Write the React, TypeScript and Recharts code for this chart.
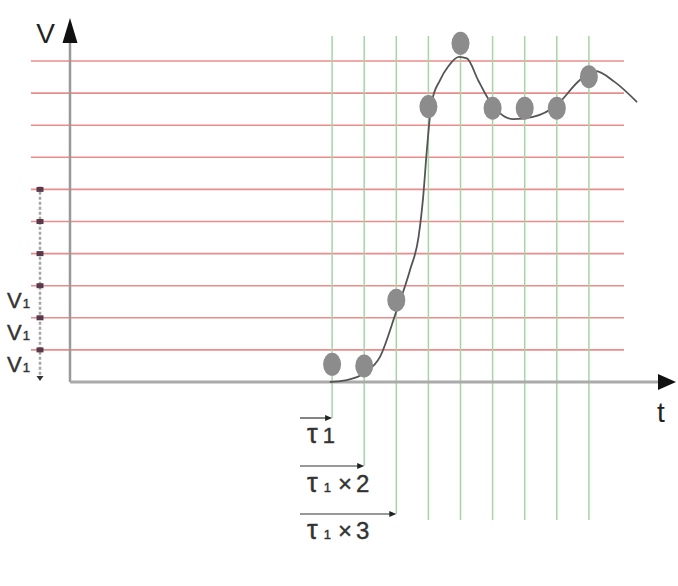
import React from 'react';
import { ComposedChart, XAxis, YAxis, Line, Scatter, ReferenceLine, ReferenceDot } from 'recharts';

// sampled points (grey dots), time in units of τ1, value in units of V1
const sampleTimes = [1, 2, 3, 4, 5, 6, 7, 8, 9];
const sampleValues = [0.55, 0.5, 2.55, 8.58, 10.55, 8.53, 8.53, 8.53, 9.51];

// the continuous response curve
const curveTimes = [0.93, 1.4, 2.0, 2.5, 3.0, 3.43, 3.69, 3.84, 3.95, 4.1, 4.36, 4.61, 4.95, 5.2, 5.55, 5.83, 6.2, 6.64, 7.26, 8.0, 8.72, 9.19, 9.8, 10.5];
const curveValues = [0, 0.05, 0.27, 0.8, 2.2, 3.5, 4.5, 5.8, 7.2, 8.7, 9.4, 9.82, 10.13, 10.08, 9.4, 8.88, 8.4, 8.19, 8.26, 8.63, 9.41, 9.69, 9.35, 8.72];

// grid: quantisation levels (red) and sampling instants (green)
const levels = [1, 2, 3, 4, 5, 6, 7, 8, 9, 10];
const steps = [1, 2, 3, 4, 5, 6, 7, 8, 9];

// step-size labels on the left and the τ arrows below
const v1Labels = ['V', 'V', 'V'];
const v1Bands = [3, 2, 1];
const tauMultiples = [1, 2, 3];
const tauFactors = ['', '2', '3'];

const W = 678;
const H = 586;
const U = 32.1; // px per unit
const OX = 300; // px of t = 0
const OY = 382; // px of v = 0
const X_MIN = -9.2;
const X_MAX = 11.75;
const Y_MIN = -6.2;
const Y_MAX = 11.85;

const px = (p: number) => (p - OX) / U;
const py = (p: number) => (OY - p) / U;

const AXIS_T = px(70);
const V1_T = px(40);
const tauRows = [py(418), py(466), py(514)];
const tauTextRows = [py(443), py(492), py(539)];

const FONT = '"Liberation Sans", Arial, sans-serif';

const dots = sampleTimes.map((t, i) => ({ t, v: sampleValues[i] }));
const curve = curveTimes.map((t, i) => ({ t, v: curveValues[i] }));

export default function App() {
  return (
    <div style={{ position: 'absolute', left: 0, top: 0, width: W, height: H, background: '#fff' }}>
      <ComposedChart
        width={W}
        height={H}
        margin={{
          left: OX + X_MIN * U,
          right: W - (OX + X_MAX * U),
          top: OY - Y_MAX * U,
          bottom: H - (OY - Y_MIN * U),
        }}
      >
        <XAxis type="number" dataKey="t" domain={[X_MIN, X_MAX]} allowDataOverflow hide />
        <YAxis type="number" dataKey="v" domain={[Y_MIN, Y_MAX]} allowDataOverflow hide />

        {levels.map((v) => (
          <ReferenceLine key={'h' + v} segment={[{ x: px(31), y: v }, { x: px(624), y: v }]} stroke="#ea8c8c" strokeWidth={1.6} />
        ))}
        {steps.map((t) => (
          <ReferenceLine
            key={'g' + t}
            segment={[{ x: t, y: py(36) }, { x: t, y: t <= 3 ? tauRows[t - 1] : py(520) }]}
            stroke="#a3d6a3"
            strokeWidth={1.5}
          />
        ))}

        <ReferenceLine segment={[{ x: 0, y: py(7) }, { x: 0, y: py(583) }]} stroke="#666" strokeDasharray="1.5 2.5" strokeWidth={1.4} />

        {/* axes */}
        <ReferenceLine segment={[{ x: AXIS_T, y: 0 }, { x: AXIS_T, y: py(42) }]} stroke="#999" strokeWidth={2.5} />
        <ReferenceLine segment={[{ x: AXIS_T, y: 0 }, { x: px(660), y: 0 }]} stroke="#aaa" strokeWidth={3} />
        <ReferenceDot x={AXIS_T} y={py(18)} shape={(p: any) => (
          <polygon points={`${p.cx},${p.cy} ${p.cx - 7.5},${p.cy + 25} ${p.cx + 7.5},${p.cy + 25}`} fill="#111" />
        )} />
        <ReferenceDot x={px(676)} y={0} shape={(p: any) => (
          <polygon points={`${p.cx},${p.cy} ${p.cx - 18},${p.cy - 8} ${p.cx - 18},${p.cy + 8}`} fill="#111" />
        )} />
        <ReferenceDot x={px(45.5)} y={py(43)} shape={(p: any) => (
          <text x={p.cx} y={p.cy} textAnchor="middle" fontFamily={FONT} fontSize={28} fill="#222">V</text>
        )} />
        <ReferenceDot x={px(661)} y={py(422)} shape={(p: any) => (
          <text x={p.cx} y={p.cy} textAnchor="middle" fontFamily={FONT} fontSize={28} fill="#222">t</text>
        )} />

        {/* V1 step marker */}
        <ReferenceLine segment={[{ x: V1_T, y: 6.08 }, { x: V1_T, y: 0.15 }]} stroke="#a5a5a5" strokeDasharray="3 2" strokeWidth={2.5} />
        {levels.slice(0, 6).map((v) => (
          <ReferenceDot key={'k' + v} x={V1_T} y={v} shape={(p: any) => (
            <rect x={p.cx - 3.5} y={p.cy - 2.5} width={7} height={5} fill="#5a3a4a" />
          )} />
        ))}
        <ReferenceDot x={V1_T} y={py(381)} shape={(p: any) => (
          <polygon points={`${p.cx},${p.cy} ${p.cx - 3.5},${p.cy - 5} ${p.cx + 3.5},${p.cy - 5}`} fill="#333" />
        )} />
        {v1Labels.map((s, i) => (
          <ReferenceDot key={'l' + i} x={px(7)} y={v1Bands[i] - 0.7} shape={(p: any) => (
            <text x={p.cx} y={p.cy} fontFamily={FONT} fontSize={22} fill="#333" stroke="#333" strokeWidth={0.4}>
              {s}
              <tspan fontSize={13} dx={1}>1</tspan>
            </text>
          )} />
        ))}

        {/* τ arrows */}
        {tauMultiples.map((m, i) => (
          <ReferenceLine key={'a' + m} segment={[{ x: 0, y: tauRows[i] }, { x: m - 0.15, y: tauRows[i] }]} stroke="#333" strokeWidth={1.2} />
        ))}
        {tauMultiples.map((m, i) => (
          <ReferenceDot key={'ah' + m} x={m} y={tauRows[i]} shape={(p: any) => (
            <polygon points={`${p.cx},${p.cy} ${p.cx - 7},${p.cy - 3} ${p.cx - 7},${p.cy + 3}`} fill="#222" />
          )} />
        ))}
        {tauMultiples.map((m, i) => (
          <ReferenceDot key={'at' + m} x={px(307)} y={tauTextRows[i]} shape={(p: any) => (
            <text x={p.cx} y={p.cy} fontFamily={FONT} fontSize={27} fill="#333" stroke="#333" strokeWidth={0.4}>
              τ
              <tspan fontSize={i === 0 ? 22 : 13} dx={i === 0 ? 5 : 6}>1</tspan>
              {tauFactors[i] && <tspan dx={7} fontSize={24}>×</tspan>}
              {tauFactors[i] && <tspan dx={4} fontSize={24}>{tauFactors[i]}</tspan>}
            </text>
          )} />
        ))}

        <Line data={curve} dataKey="v" type="monotone" dot={false} stroke="#555" strokeWidth={1.8} isAnimationActive={false} />
        <Scatter data={dots} dataKey="v" isAnimationActive={false} shape={(p: any) => (
          <ellipse cx={p.cx} cy={p.cy} rx={9} ry={11.5} fill="#8c8c8c" />
        )} />
      </ComposedChart>
    </div>
  );
}
